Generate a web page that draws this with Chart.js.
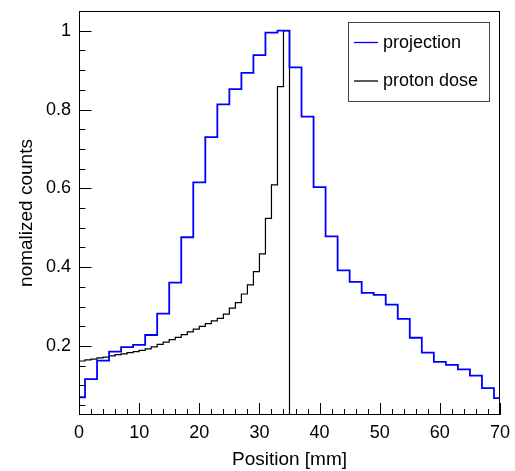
<!DOCTYPE html>
<html>
<head>
<meta charset="utf-8">
<script src="https://cdn.jsdelivr.net/npm/chart.js@4.4.0/dist/chart.umd.min.js"></script>
<style>
  html, body { margin: 0; padding: 0; background: #fff; }
  canvas { display: block; }
</style>
</head>
<body>
<canvas id="grafico" width="515" height="471"></canvas>
<script>
// projection: bins 2 mm wide, centred on even positions
const centrosProyeccion = [0, 2, 4, 6, 8, 10, 12, 14, 16, 18, 20, 22, 24, 26, 28, 30, 32, 34,
  36, 38, 40, 42, 44, 46, 48, 50, 52, 54, 56, 58, 60, 62, 64, 66, 68, 70];
const valoresProyeccion = [0.070, 0.116, 0.163, 0.186, 0.197, 0.203, 0.228, 0.282, 0.361, 0.476,
  0.615, 0.730, 0.813, 0.852, 0.893, 0.938, 0.995, 1.000,
  0.907, 0.782, 0.603, 0.478, 0.392, 0.363, 0.335, 0.330, 0.305, 0.269, 0.221, 0.183,
  0.160, 0.152, 0.141, 0.125, 0.093, 0.068];

// proton dose: 1 mm bins starting at 0
const bordesDosis = [0, 1, 2, 3, 4, 5, 6, 7, 8, 9, 10, 11, 12, 13, 14, 15, 16, 17, 18, 19,
  20, 21, 22, 23, 24, 25, 26, 27, 28, 29, 30, 31, 32, 33, 34, 35, 36, 37, 38, 39,
  40, 41, 42, 43, 44, 45, 46, 47, 48, 49, 50, 51, 52, 53, 54, 55, 56, 57, 58, 59,
  60, 61, 62, 63, 64, 65, 66, 67, 68, 69, 70];
const valoresDosis = [0.162, 0.165, 0.167, 0.170, 0.172, 0.175, 0.178, 0.180, 0.183, 0.186,
  0.189, 0.193, 0.198, 0.204, 0.210, 0.216, 0.222, 0.229, 0.236, 0.243,
  0.250, 0.257, 0.264, 0.270, 0.281, 0.296, 0.310, 0.332, 0.355, 0.389,
  0.434, 0.524, 0.609, 0.858, 1.000,
  0, 0, 0, 0, 0, 0, 0, 0, 0, 0, 0, 0, 0, 0, 0, 0, 0, 0, 0, 0,
  0, 0, 0, 0, 0, 0, 0, 0, 0, 0, 0, 0, 0, 0, 0];

const ticksX = [0, 10, 20, 30, 40, 50, 60, 70];
const ticksY = [0.2, 0.4, 0.6, 0.8, 1];

const FUENTE = "'Liberation Sans', Arial, Helvetica, sans-serif";

// histogram outline: two points per bin (left and right edge)
function histo(lo, hi, vals) {
  const pts = [];
  vals.forEach((v, i) => {
    pts.push({ x: lo[i], y: v });
    pts.push({ x: hi[i], y: v });
  });
  return pts;
}

const datosProyeccion = histo(
  centrosProyeccion.map(c => c - 1),
  centrosProyeccion.map(c => c + 1),
  valoresProyeccion
);
const datosDosis = histo(
  bordesDosis.slice(0, -1),
  bordesDosis.slice(1),
  valoresDosis
);

function sinRelleno(s) {
  s.paddingTop = 0;
  s.paddingBottom = 0;
  s.paddingLeft = 0;
  s.paddingRight = 0;
}

// ROOT style frame, inside ticks and legend box
const marcoRoot = {
  id: "marcoRoot",
  afterDatasetsDraw(chart) {
    const { ctx, chartArea: a, scales: { x, y } } = chart;
    ctx.save();
    ctx.strokeStyle = "#000";
    ctx.lineWidth = 1;
    ctx.beginPath();
    for (let i = 0; i <= 35; i++) {
      const v = i * 2;
      const px = Math.round(x.getPixelForValue(v)) + 0.5;
      const len = v % 10 === 0 ? 12 : 6;
      ctx.moveTo(px, a.bottom);
      ctx.lineTo(px, a.bottom - len);
    }
    for (let i = 1; i <= 20; i++) {
      const v = i * 0.05;
      const py = Math.round(y.getPixelForValue(v)) + 0.5;
      const len = i % 4 === 0 ? 12.5 : 6.5;
      ctx.moveTo(a.left, py);
      ctx.lineTo(a.left + len, py);
    }
    ctx.stroke();
    ctx.strokeRect(a.left + 0.5, a.top + 0.5, a.right - a.left - 1, a.bottom - a.top - 1);

    // legend
    const bx = a.right - 152, by = a.top + 11, bw = 141, bh = 79;
    ctx.strokeStyle = "#444";
    ctx.strokeRect(bx + 0.5, by + 0.5, bw, bh);
    ctx.font = "18px " + FUENTE;
    ctx.fillStyle = "#000";
    ctx.textBaseline = "alphabetic";
    chart.data.datasets.forEach((ds, i) => {
      const ly = by + 20.5 + i * 38.5;
      ctx.strokeStyle = ds.borderColor;
      ctx.lineWidth = 1.3;
      ctx.beginPath();
      ctx.moveTo(bx + 6, ly);
      ctx.lineTo(bx + 30, ly);
      ctx.stroke();
      ctx.fillText(ds.label, bx + 35, ly + 5);
    });
    ctx.restore();
  }
};

new Chart(document.getElementById("grafico"), {
  type: "line",
  data: {
    datasets: [
      {
        label: "projection",
        data: datosProyeccion,
        borderColor: "#0000ff",
        borderWidth: 1.8,
        pointRadius: 0,
        fill: false,
        clip: 0
      },
      {
        label: "proton dose",
        data: datosDosis,
        borderColor: "#000000",
        borderWidth: 1.2,
        pointRadius: 0,
        fill: false,
        clip: 0
      }
    ]
  },
  options: {
    responsive: false,
    animation: false,
    devicePixelRatio: 1,
    layout: { padding: { top: 11, right: 15, left: 0, bottom: 0 } },
    plugins: {
      legend: { display: false },
      tooltip: { enabled: false }
    },
    scales: {
      x: {
        type: "linear",
        min: 0,
        max: 70,
        afterBuildTicks: s => { s.ticks = ticksX.map(v => ({ value: v })); },
        afterFit: s => { s.height = 56; sinRelleno(s); },
        grid: { display: false, drawTicks: false, tickLength: 0 },
        border: { display: false },
        ticks: {
          color: "#000",
          font: { family: FUENTE, size: 18 },
          padding: 7,
          maxRotation: 0,
          autoSkip: false
        },
        title: {
          display: true,
          text: "Position [mm]",
          color: "#000",
          font: { family: FUENTE, size: 19 },
          padding: { top: 0, bottom: 0 }
        }
      },
      y: {
        type: "linear",
        min: 0.025,
        max: 1.05,
        afterBuildTicks: s => { s.ticks = ticksY.map(v => ({ value: v })); },
        afterFit: s => { s.width = 79; sinRelleno(s); },
        grid: { display: false, drawTicks: false, tickLength: 0 },
        border: { display: false },
        ticks: {
          color: "#000",
          font: { family: FUENTE, size: 18 },
          padding: 8,
          autoSkip: false,
          callback: v => String(+v.toFixed(2))
        },
        title: {
          display: true,
          text: "nomalized counts",
          color: "#000",
          font: { family: FUENTE, size: 19 },
          padding: { top: 15.5, bottom: 0 }
        }
      }
    }
  },
  plugins: [marcoRoot]
});
</script>
</body>
</html>
